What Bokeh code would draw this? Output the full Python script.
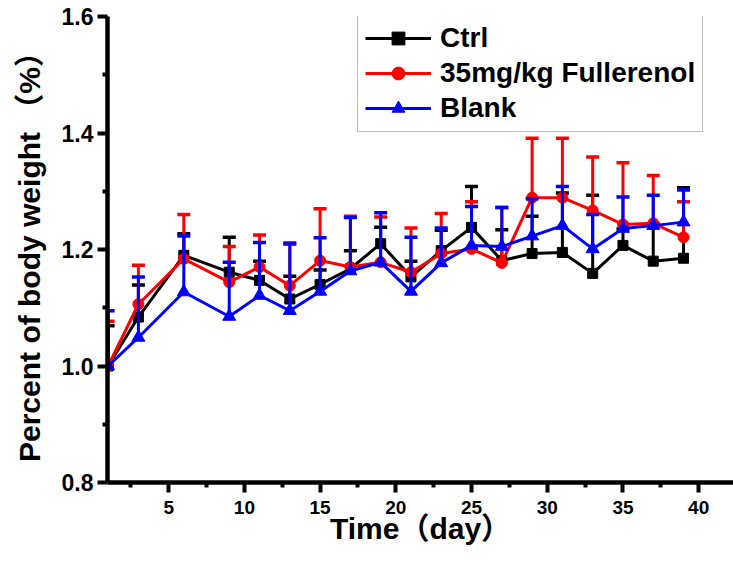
from bokeh.plotting import figure
from bokeh.models import FixedTicker, Range1d, Legend, LegendItem, Span
from bokeh.embed import file_html
from bokeh.resources import INLINE

# ---- data ----
days = [1, 3, 6, 9, 11, 13, 15, 17, 19, 21, 23, 25, 27, 29, 31, 33, 35, 37, 39]

ctrl_mean = [1.000, 1.084, 1.190, 1.161, 1.147, 1.115, 1.140, 1.167, 1.210, 1.153, 1.198, 1.238, 1.181,
             1.193, 1.195, 1.159, 1.207, 1.180, 1.185]
ctrl_upper = [1.069, 1.139, 1.227, 1.221, 1.180, 1.154, 1.165, 1.198, 1.238, 1.180, 1.233, 1.308, 1.234,
              1.257, 1.297, 1.293, 1.235, 1.244, 1.306]

fuller_mean = [1.000, 1.106, 1.184, 1.144, 1.170, 1.138, 1.181, 1.170, 1.178, 1.161, 1.193, 1.201, 1.177,
               1.289, 1.289, 1.267, 1.243, 1.245, 1.221]
fuller_upper = [1.077, 1.173, 1.260, 1.205, 1.225, 1.209, 1.270, 1.257, 1.256, 1.237, 1.262, 1.282, 1.272,
                1.391, 1.391, 1.359, 1.349, 1.327, 1.282]

blank_mean = [1.000, 1.049, 1.127, 1.085, 1.121, 1.095, 1.128, 1.163, 1.178, 1.128, 1.177, 1.207, 1.205,
              1.223, 1.241, 1.201, 1.236, 1.241, 1.247]
blank_upper = [1.095, 1.153, 1.223, 1.178, 1.212, 1.211, 1.220, 1.255, 1.263, 1.221, 1.237, 1.274, 1.272,
               1.287, 1.308, 1.260, 1.290, 1.293, 1.302]

series_names = ["Ctrl", "35mg/kg Fullerenol", "Blank"]

x_major = [5, 10, 15, 20, 25, 30, 35, 40]
x_minor = [2.5, 7.5, 12.5, 17.5, 22.5, 27.5, 32.5, 37.5, 42.5]
y_major = [0.8, 1.0, 1.2, 1.4, 1.6]
y_minor = [0.9, 1.1, 1.3, 1.5]
y_labels = ["0.8", "1.0", "1.2", "1.4", "1.6"]

FONT = "Liberation Sans"
X0, X1 = 0.96, 42.3

p = figure(width=733, height=562, output_backend="svg", toolbar_location=None,
           x_range=Range1d(X0, X1), y_range=Range1d(0.8, 1.6),
           min_border_left=107, min_border_right=0, min_border_top=16, min_border_bottom=80)
p.outline_line_color = None
p.xgrid.visible = False
p.ygrid.visible = False
p.background_fill_color = "white"
p.border_fill_color = "white"

# reinforce the axis lines on the inside of the frame
p.add_layout(Span(location=X0, dimension="height", line_color="black", line_width=3))
p.add_layout(Span(location=0.8, dimension="width", line_color="black", line_width=2))

styles = [
    ("black", "square", 10, ctrl_mean, ctrl_upper),
    ("#ff0000", "circle", 11, fuller_mean, fuller_upper),
    ("#0000ff", "triangle", 13, blank_mean, blank_upper),
]

items = []
for name, (color, marker, size, mean, upper) in zip(series_names, styles):
    p.segment(x0=days, y0=mean, x1=days, y1=upper, line_color=color, line_width=3)
    p.scatter(x=days, y=upper, marker="dash", size=13, line_color=color, line_width=3.5)
    r_line = p.line(x=days, y=mean, line_color=color, line_width=3)
    r_pts = p.scatter(x=days, y=mean, marker=marker, size=size, fill_color=color, line_color=color,
                      line_width=1)
    items.append(LegendItem(label=name, renderers=[r_line, r_pts]))

legend = Legend(items=items, location=(250, 350))
legend.label_text_font = FONT
legend.label_text_font_style = "bold"
legend.label_text_font_size = "28px"
legend.label_text_color = "black"
legend.glyph_width = 66
legend.glyph_height = 32
legend.label_height = 32
legend.spacing = 3
legend.padding = 7
legend.margin = 0
legend.label_standoff = 9
legend.border_line_color = "#808080"
legend.border_line_width = 1.5
legend.background_fill_color = "white"
legend.background_fill_alpha = 1
p.add_layout(legend, "center")

for ax in (p.xaxis[0], p.yaxis[0]):
    ax.axis_line_width = 4.5
    ax.axis_line_color = "black"
    ax.major_tick_line_width = 4
    ax.minor_tick_line_width = 4
    ax.major_tick_in = 0
    ax.minor_tick_in = 0
    ax.major_tick_out = 10
    ax.minor_tick_out = 5
    ax.major_label_text_font = FONT
    ax.major_label_text_font_style = "bold"
    ax.major_label_text_color = "black"
    ax.axis_label_text_font = FONT + ", Noto Sans CJK SC"
    ax.axis_label_text_font_style = "bold"
    ax.axis_label_text_font_size = "30px"
    ax.axis_label_text_color = "black"

p.xaxis.ticker = FixedTicker(ticks=x_major, minor_ticks=x_minor)
p.yaxis.ticker = FixedTicker(ticks=y_major, minor_ticks=y_minor)
p.yaxis.major_label_overrides = {v: s for v, s in zip(y_major, y_labels)}
p.xaxis.major_label_text_font_size = "19px"
p.yaxis.major_label_text_font_size = "23px"
p.xaxis.major_label_standoff = 8
p.yaxis.major_label_standoff = 4
p.xaxis.axis_label = "Time（day）"
p.yaxis.axis_label = "Percent of body weight （%）"
p.xaxis.axis_label_standoff = -5
p.yaxis.axis_label_standoff = 13

open("out.html", "w").write(file_html(p, INLINE))
